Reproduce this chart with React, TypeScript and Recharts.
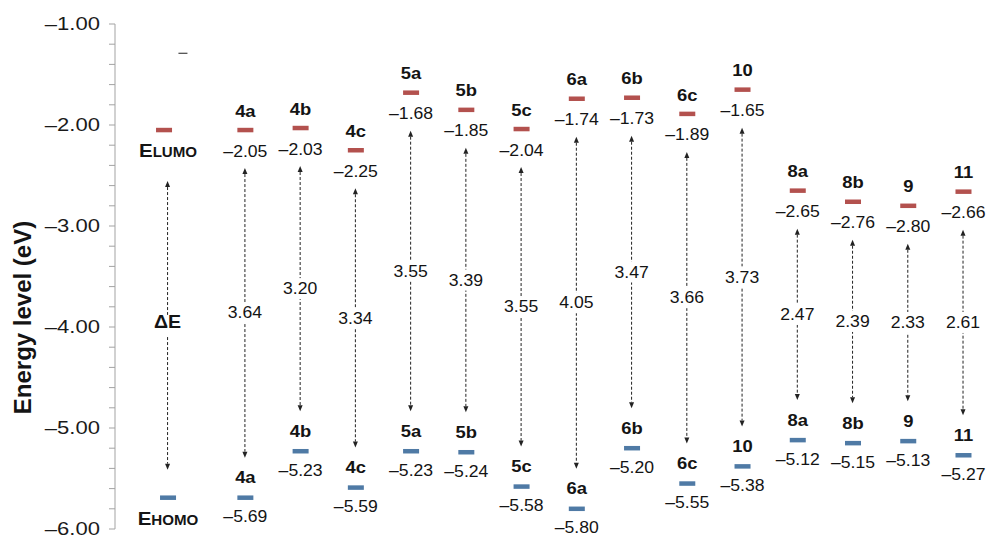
import React from 'react';
import { ComposedChart, XAxis, YAxis, Scatter, Bar } from 'recharts';

// Frontier orbital energies (eV) for each compound
const compounds = ['4a', '4b', '4c', '5a', '5b', '5c', '6a', '6b', '6c', '10', '8a', '8b', '9', '11'];
const lumoLevels = [-2.05, -2.03, -2.25, -1.68, -1.85, -2.04, -1.74, -1.73, -1.89, -1.65, -2.65, -2.76, -2.8, -2.66];
const homoLevels = [-5.69, -5.23, -5.59, -5.23, -5.24, -5.58, -5.8, -5.2, -5.55, -5.38, -5.12, -5.15, -5.13, -5.27];
const bandGaps = [3.64, 3.2, 3.34, 3.55, 3.39, 3.55, 4.05, 3.47, 3.66, 3.73, 2.47, 2.39, 2.33, 2.61];

// Legend column (E_LUMO / ΔE / E_HOMO) levels
const keyLumo = -2.05;
const keyHomo = -5.69;

// Stray dash near the top of the legend column
const strayMarks = [{ slot: 0.27, value: -1.29 }];

// Major y-axis ticks
const majorTicks = [-6, -5, -4, -3, -2, -1];

const FONT = '"Liberation Sans", Arial, Helvetica, sans-serif';
const RED = '#b3514e';
const BLUE = '#4f7aa5';
const INK = '#141414';

type Row = {
  slot: number;
  name: string;
  lumo: number;
  homo: number;
  gap: number | null;
  isKey: boolean;
};

const rows: Row[] = [
  { slot: 0, name: '', lumo: keyLumo, homo: keyHomo, gap: null, isKey: true },
  ...compounds.map((name, i) => ({
    slot: 1.4 + i,
    name,
    lumo: lumoLevels[i],
    homo: homoLevels[i],
    gap: bandGaps[i],
    isKey: false,
  })),
];

// minor ticks every 0.2 eV between the major ones
const allTicks: number[] = [];
for (let k = 0; k <= (majorTicks[majorTicks.length - 1] - majorTicks[0]) * 5; k++) {
  allTicks.push(Math.round((majorTicks[0] + k * 0.2) * 10) / 10);
}

const dash = '\u2013';
const fmt = (v: number, digits = 2) => (v < 0 ? dash + Math.abs(v).toFixed(digits) : v.toFixed(digits));

// Horizontally widened text, anchored at (x, y)
const SText = ({ x, y, sx = 1.15, children, ...rest }: any) => (
  <text transform={`translate(${x},${y}) scale(${sx},1)`} x={0} y={0} fontFamily={FONT} fill={INK} {...rest}>
    {children}
  </text>
);

const AxisTick = (props: any) => {
  const { x, y, payload } = props;
  const v = payload.value as number;
  if (Math.abs(v - Math.round(v)) > 1e-6) return <g />;
  return (
    <SText x={x} y={y} sx={1.26} textAnchor="end" fontSize={17.5} dy="0.35em" fill="#1a1a1a">
      {fmt(v)}
    </SText>
  );
};

const AxisTitle = (props: any) => {
  const vb = props.viewBox || { x: 0, y: 0, width: 0, height: 0 };
  const x = vb.x + 23;
  const y = vb.y + vb.height / 2 + 41;
  return (
    <text
      transform={`translate(${x},${y}) rotate(-90)`}
      textAnchor="middle"
      fontFamily={FONT}
      fontWeight="bold"
      fontSize={24}
      fill={INK}
    >
      Energy level (eV)
    </text>
  );
};

// Energy level bar with its compound name above and value below
const LevelMark = (props: any) => {
  const { cx, cy, payload, kind } = props;
  if (cx == null || cy == null) return <g />;
  const color = kind === 'lumo' ? RED : BLUE;
  const value = kind === 'lumo' ? payload.lumo : payload.homo;
  if (payload.isKey) {
    return (
      <g>
        <rect
          x={cx - (kind === 'lumo' ? 12 : 8)}
          y={cy - 2.25}
          width={16}
          height={4.5}
          fill={color}
        />
        <SText x={cx} y={cy + 27} sx={1.08} textAnchor="middle" fontWeight="bold">
          <tspan fontSize={19}>E</tspan>
          <tspan fontSize={14}>{kind === 'lumo' ? 'LUMO' : 'HOMO'}</tspan>
        </SText>
      </g>
    );
  }
  const above = kind === 'lumo' ? 19 : 20;
  const below = kind === 'lumo' ? 21 : 19;
  return (
    <g>
      <rect x={cx - 8} y={cy - 2.25} width={16} height={4.5} fill={color} />
      <SText x={cx} y={cy - above} sx={1.15} textAnchor="middle" fontSize={16} fontWeight="bold" dy="0.35em">
        {payload.name}
      </SText>
      <SText x={cx} y={cy + below} sx={1.1} textAnchor="middle" fontSize={16} dy="0.35em">
        {fmt(value)}
      </SText>
    </g>
  );
};

// Dashed double-headed arrow spanning the band gap, with the gap value in the middle
const GapArrow = (props: any) => {
  const { x, y, width, height, payload } = props;
  if (x == null || y == null) return <g />;
  const cx = x + width / 2;
  const top = Math.min(y, y + height);
  const bottom = Math.max(y, y + height);
  const y1 = top + (payload.isKey ? 51 : 38);
  const y2 = bottom - (payload.isKey ? 28 : 40);
  const mid = (y1 + y2) / 2;
  const head = 6;
  return (
    <g>
      <line x1={cx} y1={y1 + head} x2={cx} y2={y2 - head} stroke="#222" strokeWidth={1} strokeDasharray="3 2" />
      <polygon points={`${cx},${y1} ${cx - 2.5},${y1 + head} ${cx + 2.5},${y1 + head}`} fill="#222" />
      <polygon points={`${cx},${y2} ${cx - 2.5},${y2 - head} ${cx + 2.5},${y2 - head}`} fill="#222" />
      <rect x={cx - 21} y={mid - 10.5} width={42} height={21} fill="#ffffff" />
      {payload.isKey ? (
        <SText x={cx} y={mid - 4} sx={1.12} textAnchor="middle" fontSize={17.5} fontWeight="bold" dy="0.35em">
          {'\u0394E'}
        </SText>
      ) : (
        <SText x={cx} y={mid} sx={1.1} textAnchor="middle" fontSize={16} dy="0.35em">
          {payload.gap.toFixed(2)}
        </SText>
      )}
    </g>
  );
};

const StrayDash = (props: any) => {
  const { cx, cy } = props;
  if (cx == null || cy == null) return <g />;
  return <line x1={cx - 4.5} y1={cy} x2={cx + 4.5} y2={cy} stroke="#444" strokeWidth={1.2} />;
};

export default function App() {
  // The page frame is drawn edge to edge; the chart keeps an 8px inset of its own.
  return (
    <div
      style={{
        width: 990,
        height: 536,
        paddingLeft: 8,
        paddingTop: 8,
        boxSizing: 'border-box',
        background: '#fff',
        overflow: 'hidden',
      }}
    >
      <style>{'html, body { margin: 0; padding: 0; }'}</style>
      <ComposedChart width={982} height={528} data={rows} margin={{ top: 16, right: 0, bottom: 7, left: 0 }}>
        <XAxis type="number" dataKey="slot" domain={[-0.96, 14.88]} hide />
        <YAxis
          type="number"
          domain={[majorTicks[0], majorTicks[majorTicks.length - 1]]}
          ticks={allTicks}
          interval={0}
          width={107}
          tickSize={6}
          tickMargin={9}
          axisLine={{ stroke: '#a3a3a3' }}
          tickLine={{ stroke: '#a3a3a3' }}
          tick={<AxisTick />}
          label={{ position: 'insideLeft', content: <AxisTitle /> }}
        />
        <Bar
          dataKey={(d: Row) => [d.homo, d.lumo]}
          barSize={10}
          shape={<GapArrow />}
          isAnimationActive={false}
        />
        <Scatter dataKey="lumo" shape={<LevelMark kind="lumo" />} isAnimationActive={false} />
        <Scatter dataKey="homo" shape={<LevelMark kind="homo" />} isAnimationActive={false} />
        <Scatter data={strayMarks} dataKey="value" shape={<StrayDash />} isAnimationActive={false} />
      </ComposedChart>
    </div>
  );
}
